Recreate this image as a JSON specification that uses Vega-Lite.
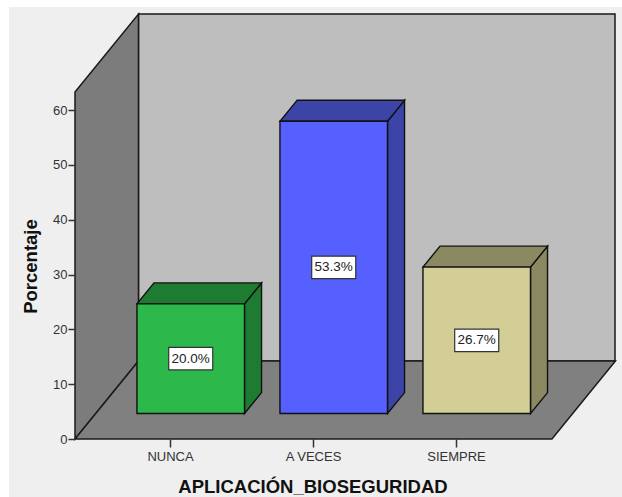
{
  "$schema": "https://vega.github.io/schema/vega-lite/v6.json",
  "width": 540,
  "height": 425,
  "autosize": "none",
  "padding": {"left": 75, "top": 14, "right": 7, "bottom": 58},
  "background": "#ffffff",
  "view": {"stroke": null},
  "config": {"axis": {"grid": false, "domain": false, "labelFont": "Liberation Sans", "titleFont": "Liberation Sans", "labelColor": "#333333", "titleColor": "#111111", "tickColor": "#333333", "tickWidth": 1.5, "labelFontSize": 13, "titleFontWeight": "bold"}},
  "datasets": {
    "barras": [
      {"categoria": "NUNCA", "porcentaje": 20.0},
      {"categoria": "A VECES", "porcentaje": 53.3},
      {"categoria": "SIEMPRE", "porcentaje": 26.7}
    ],
    "profundidad": [{"d": 0}, {"d": 1}]
  },
  "layer": [
    {
      "data": {"values": [{}]},
      "mark": {"type": "rect", "fill": "#efefef"},
      "encoding": {
        "x": {"datum": -1.126, "type": "quantitative", "scale": {"domain": [-0.6643, 3.112], "nice": false, "zero": false},
          "axis": {"zindex": 1, "values": [0, 1, 2], "labelExpr": "['NUNCA','A VECES','SIEMPRE'][datum.value]", "title": "APLICACIÓN_BIOSEGURIDAD", "titleFontSize": 18.5, "titleX": 237.5, "titleY": 47, "titleBaseline": "middle", "tickSize": 8, "labelPadding": 3}},
        "x2": {"datum": 3.2},
        "y": {"datum": -10.6, "type": "quantitative", "scale": {"domain": [0, 77.51], "nice": false, "zero": false},
          "axis": {"zindex": 1, "values": [0, 10, 20, 30, 40, 50, 60], "title": "Porcentaje", "titleFontSize": 18.5, "titleX": -45, "titleY": 252, "titleBaseline": "middle", "tickSize": 7, "labelPadding": 1}},
        "y2": {"datum": 78.8}
      }
    },
    {
      "data": {"values": [{}]},
      "mark": {"type": "rect", "fill": "#bebebe", "stroke": "#1a1a1a", "strokeWidth": 1.5},
      "encoding": {
        "x": {"datum": -0.2203, "type": "quantitative", "scale": {"domain": [-0.6643, 3.112], "nice": false, "zero": false}, "axis": null},
        "x2": {"datum": 3.112},
        "y": {"datum": 14.23, "type": "quantitative", "scale": {"domain": [0, 77.51], "nice": false, "zero": false}, "axis": null},
        "y2": {"datum": 77.51}
      }
    },
    {
      "data": {"name": "profundidad"},
      "transform": [
        {"calculate": "-0.6643 + datum.d * 0.444", "as": "xw"},
        {"calculate": "datum.d * 14.23", "as": "yb"},
        {"calculate": "63.28 + datum.d * 14.23", "as": "yt"}
      ],
      "mark": {"type": "area", "orient": "vertical", "fill": "#7c7c7c", "stroke": "#1a1a1a", "strokeWidth": 1.5},
      "encoding": {
        "x": {"field": "xw", "type": "quantitative", "scale": {"domain": [-0.6643, 3.112], "nice": false, "zero": false}, "axis": null},
        "y": {"field": "yt", "type": "quantitative", "scale": {"domain": [0, 77.51], "nice": false, "zero": false}, "axis": null},
        "y2": {"field": "yb"}
      }
    },
    {
      "data": {"name": "profundidad"},
      "transform": [
        {"calculate": "-0.6643 + datum.d * 0.444", "as": "xi"},
        {"calculate": "2.671 + datum.d * 0.444", "as": "xd"},
        {"calculate": "datum.d * 14.23", "as": "yp"}
      ],
      "mark": {"type": "area", "orient": "horizontal", "fill": "#808080", "stroke": "#1a1a1a", "strokeWidth": 1.5},
      "encoding": {
        "x": {"field": "xi", "type": "quantitative", "scale": {"domain": [-0.6643, 3.112], "nice": false, "zero": false}, "axis": null},
        "x2": {"field": "xd"},
        "y": {"field": "yp", "type": "quantitative", "scale": {"domain": [0, 77.51], "nice": false, "zero": false}, "axis": null}
      }
    },
    {
      "data": {"name": "barras"},
      "transform": [
        {"calculate": "indexof(['NUNCA','A VECES','SIEMPRE'], datum.categoria)", "as": "pos"},
        {"calculate": "[0.327, 0.595]", "as": "d"},
        {"flatten": ["d"]},
        {"calculate": "datum.pos + 0.376 + datum.d * 0.444", "as": "xc"},
        {"calculate": "datum.d * 14.23", "as": "yb"},
        {"calculate": "datum.d * 14.23 + datum.porcentaje", "as": "yt"}
      ],
      "mark": {"type": "area", "orient": "vertical", "stroke": "#111111", "strokeWidth": 1.4},
      "encoding": {
        "x": {"field": "xc", "type": "quantitative", "scale": {"domain": [-0.6643, 3.112], "nice": false, "zero": false}, "axis": null},
        "y": {"field": "yt", "type": "quantitative", "scale": {"domain": [0, 77.51], "nice": false, "zero": false}, "axis": null},
        "y2": {"field": "yb"},
        "fill": {"field": "categoria", "type": "nominal", "legend": null, "scale": {"domain": ["NUNCA", "A VECES", "SIEMPRE"], "range": ["#1e7b32", "#3c44a8", "#8b8962"]}}
      }
    },
    {
      "data": {"name": "barras"},
      "transform": [
        {"calculate": "indexof(['NUNCA','A VECES','SIEMPRE'], datum.categoria)", "as": "pos"},
        {"calculate": "[0.327, 0.595]", "as": "d"},
        {"flatten": ["d"]},
        {"calculate": "datum.pos - 0.376 + datum.d * 0.444", "as": "xi"},
        {"calculate": "datum.pos + 0.376 + datum.d * 0.444", "as": "xd"},
        {"calculate": "datum.d * 14.23 + datum.porcentaje", "as": "yt"}
      ],
      "mark": {"type": "area", "orient": "horizontal", "stroke": "#111111", "strokeWidth": 1.4},
      "encoding": {
        "x": {"field": "xi", "type": "quantitative", "scale": {"domain": [-0.6643, 3.112], "nice": false, "zero": false}, "axis": null},
        "x2": {"field": "xd"},
        "y": {"field": "yt", "type": "quantitative", "scale": {"domain": [0, 77.51], "nice": false, "zero": false}, "axis": null},
        "fill": {"field": "categoria", "type": "nominal", "legend": null, "scale": {"domain": ["NUNCA", "A VECES", "SIEMPRE"], "range": ["#1e7b32", "#3c44a8", "#8b8962"]}}
      }
    },
    {
      "data": {"name": "barras"},
      "transform": [
        {"calculate": "indexof(['NUNCA','A VECES','SIEMPRE'], datum.categoria)", "as": "pos"},
        {"calculate": "datum.pos + 0.145 - 0.376", "as": "xi"},
        {"calculate": "datum.pos + 0.145 + 0.376", "as": "xd"},
        {"calculate": "4.65 + datum.porcentaje", "as": "yt"},
        {"calculate": "4.65", "as": "yb"}
      ],
      "mark": {"type": "rect", "stroke": "#111111", "strokeWidth": 1.4},
      "encoding": {
        "x": {"field": "xi", "type": "quantitative", "scale": {"domain": [-0.6643, 3.112], "nice": false, "zero": false}, "axis": null},
        "x2": {"field": "xd"},
        "y": {"field": "yt", "type": "quantitative", "scale": {"domain": [0, 77.51], "nice": false, "zero": false}, "axis": null},
        "y2": {"field": "yb"},
        "fill": {"field": "categoria", "type": "nominal", "legend": null, "scale": {"domain": ["NUNCA", "A VECES", "SIEMPRE"], "range": ["#2db84b", "#5560ff", "#d2ce96"]}}
      }
    },
    {
      "data": {"name": "barras"},
      "transform": [
        {"calculate": "indexof(['NUNCA','A VECES','SIEMPRE'], datum.categoria)", "as": "pos"},
        {"calculate": "datum.pos + 0.145 - 0.154", "as": "xi"},
        {"calculate": "datum.pos + 0.145 + 0.154", "as": "xd"},
        {"calculate": "4.65 + datum.porcentaje / 2 + 2.05", "as": "yt"},
        {"calculate": "4.65 + datum.porcentaje / 2 - 2.05", "as": "yb"}
      ],
      "mark": {"type": "rect", "fill": "#ffffff", "stroke": "#333333", "strokeWidth": 1.2},
      "encoding": {
        "x": {"field": "xi", "type": "quantitative", "scale": {"domain": [-0.6643, 3.112], "nice": false, "zero": false}, "axis": null},
        "x2": {"field": "xd"},
        "y": {"field": "yt", "type": "quantitative", "scale": {"domain": [0, 77.51], "nice": false, "zero": false}, "axis": null},
        "y2": {"field": "yb"}
      }
    },
    {
      "data": {"name": "barras"},
      "transform": [
        {"calculate": "indexof(['NUNCA','A VECES','SIEMPRE'], datum.categoria)", "as": "pos"},
        {"calculate": "datum.pos + 0.145", "as": "xc"},
        {"calculate": "4.65 + datum.porcentaje / 2", "as": "yc"},
        {"calculate": "format(datum.porcentaje, '.1f') + '%'", "as": "etiqueta"}
      ],
      "mark": {"type": "text", "font": "Liberation Sans", "fontSize": 13.5, "color": "#222222", "align": "center", "baseline": "middle"},
      "encoding": {
        "x": {"field": "xc", "type": "quantitative", "scale": {"domain": [-0.6643, 3.112], "nice": false, "zero": false}, "axis": null},
        "y": {"field": "yc", "type": "quantitative", "scale": {"domain": [0, 77.51], "nice": false, "zero": false}, "axis": null},
        "text": {"field": "etiqueta"}
      }
    }
  ],
  "resolve": {"scale": {"fill": "independent"}, "axis": {"x": "independent", "y": "independent"}}
}
